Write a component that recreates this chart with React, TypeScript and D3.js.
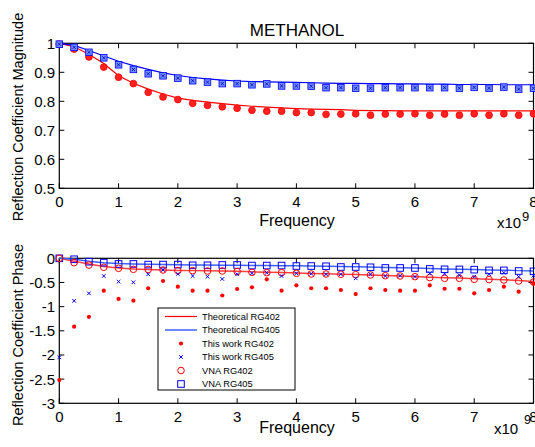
import React from 'react';
import * as d3 from 'd3';

const width = 535;
const height = 447;

// frequency axis, in units of 1e9 Hz
const freq = [0, 0.25, 0.5, 0.75, 1, 1.25, 1.5, 1.75, 2, 2.25, 2.5, 2.75, 3, 3.25, 3.5, 3.75, 4,
  4.25, 4.5, 4.75, 5, 5.25, 5.5, 5.75, 6, 6.25, 6.5, 6.75, 7, 7.25, 7.5, 7.75, 8];

// magnitude plot
const magTheory402 = [1.0, 0.988, 0.962, 0.93, 0.888, 0.862, 0.842, 0.825, 0.811, 0.803, 0.797, 0.792, 0.787,
  0.783, 0.78, 0.777, 0.775, 0.773, 0.772, 0.771, 0.769, 0.768, 0.768, 0.767, 0.767, 0.767, 0.767, 0.767, 0.767,
  0.767, 0.767, 0.767, 0.767];
const magMeas402 = [0.997, 0.98, 0.953, 0.918, 0.883, 0.861, 0.831, 0.815, 0.806, 0.793, 0.786, 0.781, 0.776,
  0.769, 0.766, 0.766, 0.761, 0.761, 0.755, 0.756, 0.757, 0.752, 0.756, 0.756, 0.757, 0.752, 0.756, 0.752, 0.757,
  0.752, 0.757, 0.752, 0.757];
const magTheory405 = [1.0, 0.993, 0.975, 0.956, 0.938, 0.923, 0.91, 0.898, 0.889, 0.882, 0.877, 0.873, 0.87,
  0.868, 0.867, 0.866, 0.865, 0.864, 0.863, 0.862, 0.862, 0.861, 0.861, 0.86, 0.86, 0.859, 0.859, 0.858, 0.858,
  0.858, 0.857, 0.857, 0.857];
const magMeas405 = [0.997, 0.986, 0.969, 0.95, 0.926, 0.91, 0.895, 0.888, 0.88, 0.871, 0.866, 0.861, 0.861,
  0.857, 0.86, 0.853, 0.853, 0.852, 0.847, 0.847, 0.845, 0.845, 0.847, 0.847, 0.847, 0.847, 0.847, 0.845, 0.848,
  0.845, 0.849, 0.842, 0.845];

// phase plot
const phaseTheory402 = [0, -0.06, -0.12, -0.17, -0.2, -0.22, -0.23, -0.24, -0.25, -0.255, -0.26, -0.265, -0.27,
  -0.28, -0.29, -0.295, -0.305, -0.315, -0.32, -0.33, -0.335, -0.345, -0.355, -0.365, -0.375, -0.39, -0.4, -0.41,
  -0.425, -0.435, -0.445, -0.46, -0.48];
const phaseTheory405 = [0, -0.02, -0.06, -0.09, -0.11, -0.12, -0.125, -0.13, -0.135, -0.14, -0.14, -0.142, -0.145,
  -0.148, -0.15, -0.152, -0.155, -0.16, -0.165, -0.17, -0.175, -0.18, -0.19, -0.195, -0.2, -0.21, -0.22, -0.225,
  -0.23, -0.24, -0.245, -0.255, -0.265];
const phaseWork402 = [-2.52, -1.415, -1.21, -0.67, -0.84, -0.877, -0.62, -0.47, -0.587, -0.67, -0.67, -0.77, -0.635,
  -0.6, -0.435, -0.67, -0.56, -0.62, -0.62, -0.656, -0.74, -0.62, -0.656, -0.67, -0.67, -0.56, -0.63, -0.63,
  -0.725, -0.656, -0.587, -0.69, -0.52];
const phaseWork405 = [-2.05, -0.88, -0.725, -0.366, -0.483, -0.497, -0.33, -0.242, -0.325, -0.366, -0.38, -0.428,
  -0.33, -0.31, -0.3, -0.366, -0.31, -0.32, -0.33, -0.33, -0.414, -0.33, -0.366, -0.36, -0.38, -0.31, -0.32, -0.35,
  -0.38, -0.33, -0.297, -0.38, -0.36];
const phaseVna402 = [0, -0.09, -0.14, -0.186, -0.207, -0.228, -0.23, -0.242, -0.256, -0.256, -0.263, -0.263, -0.276,
  -0.29, -0.297, -0.297, -0.31, -0.325, -0.325, -0.33, -0.338, -0.345, -0.36, -0.366, -0.38, -0.4, -0.414, -0.414,
  -0.435, -0.44, -0.449, -0.47, -0.49];
const phaseVna405 = [0, -0.02, -0.07, -0.09, -0.117, -0.117, -0.13, -0.13, -0.13, -0.145, -0.145, -0.138, -0.138,
  -0.15, -0.15, -0.15, -0.16, -0.16, -0.165, -0.18, -0.18, -0.186, -0.2, -0.2, -0.2, -0.22, -0.228, -0.23, -0.235,
  -0.25, -0.25, -0.263, -0.27];

const xTicks = [0, 1, 2, 3, 4, 5, 6, 7, 8];
const magTicks = [0.5, 0.6, 0.7, 0.8, 0.9, 1];
const phaseTicks = [0, -0.5, -1, -1.5, -2, -2.5, -3];
const legendItems = ['Theoretical RG402', 'Theoretical RG405', 'This work RG402', 'This work RG405', 'VNA RG402', 'VNA RG405'];

const RED = '#ff0000';
const BLUE = '#0000ff';
const font = 'Arial, "Liberation Sans", sans-serif';

const x = d3.scaleLinear().domain([0, 8]).range([59.3, 533.5]);
const yMag = d3.scaleLinear().domain([0.5, 1]).range([188.3, 43.3]);
const yPh = d3.scaleLinear().domain([-3, 0]).range([403.3, 258.3]);

const Cross = ({cx, cy, s, color, w = 1}) => (
  <path d={`M${cx - s},${cy - s}L${cx + s},${cy + s}M${cx - s},${cy + s}L${cx + s},${cy - s}`} stroke={color} strokeWidth={w} />
);

const Frame = ({y, ticks, fmt}) => {
  const [y0, y1] = y.range();
  return (
    <g>
      <rect x={x(0)} y={y1} width={x(8) - x(0)} height={y0 - y1} fill="none" stroke="#000" strokeWidth={1.2} />
      {xTicks.map(t => (
        <g key={'x' + t}>
          <line x1={x(t)} x2={x(t)} y1={y0} y2={y0 - 5} stroke="#000" />
          <line x1={x(t)} x2={x(t)} y1={y1} y2={y1 + 5} stroke="#000" />
          <text x={x(t)} y={y0 + 19} textAnchor="middle" fontSize={15} fontFamily={font}>{t}</text>
        </g>
      ))}
      {ticks.map(t => (
        <g key={'y' + t}>
          <line x1={x(0)} x2={x(0) + 5} y1={y(t)} y2={y(t)} stroke="#000" />
          <line x1={x(8)} x2={x(8) - 5} y1={y(t)} y2={y(t)} stroke="#000" />
          <text x={55} y={y(t)} dy="0.36em" textAnchor="end" fontSize={15} fontFamily={font}>{fmt(t)}</text>
        </g>
      ))}
    </g>
  );
};

export default function App() {
  const magLine = (vals) => d3.line<number>().x((d, i) => x(freq[i])).y(d => yMag(d))(vals);
  const phLine = (vals) => d3.line<number>().x((d, i) => x(freq[i])).y(d => yPh(d))(vals);

  const legX = 158, legY = 308, legRow = 13.5;

  return (
    <svg width={width} height={height} style={{position: 'absolute', left: 0, top: 0, background: '#fff'}}>
      {/* top: magnitude */}
      <text x={297} y={36} textAnchor="middle" fontSize={17} fontFamily={font}>METHANOL</text>
      <Frame y={yMag} ticks={magTicks} fmt={t => String(t)} />
      <path d={magLine(magTheory402)} fill="none" stroke={RED} strokeWidth={1.2} />
      <path d={magLine(magTheory405)} fill="none" stroke={BLUE} strokeWidth={1.2} />
      {magMeas402.map((v, i) => (
        <circle key={'mr' + i} cx={x(freq[i])} cy={yMag(v)} r={3.4} fill="#ff2020" stroke={RED} strokeWidth={0.8} />
      ))}
      {magMeas405.map((v, i) => (
        <g key={'mb' + i}>
          <rect x={x(freq[i]) - 3.3} y={yMag(v) - 3.3} width={6.6} height={6.6} fill="#6f8cff" stroke={BLUE} strokeWidth={0.8} />
          <Cross cx={x(freq[i])} cy={yMag(v)} s={1.6} color="#0000b0" w={0.8} />
        </g>
      ))}
      <text x={297} y={226} textAnchor="middle" fontSize={16} fontFamily={font}>Frequency</text>
      <text x={497} y={228} fontSize={15} fontFamily={font}>x10</text>
      <text x={522} y={221} fontSize={13} fontFamily={font}>9</text>
      <text transform="translate(23,117) rotate(-90)" textAnchor="middle" fontSize={14.5} fontFamily={font}>Reflection Coefficient Magnitude</text>

      {/* bottom: phase */}
      <Frame y={yPh} ticks={phaseTicks} fmt={t => String(t)} />
      <path d={phLine(phaseTheory402)} fill="none" stroke="#ff4040" strokeWidth={1.5} />
      <path d={phLine(phaseTheory405)} fill="none" stroke="#4060ff" strokeWidth={1.5} />
      {phaseVna405.map((v, i) => (
        <rect key={'vb' + i} x={x(freq[i]) - 3.3} y={yPh(v) - 3.3} width={6.6} height={6.6} fill="none" stroke={BLUE} strokeWidth={1} />
      ))}
      {phaseVna402.map((v, i) => (
        <circle key={'vr' + i} cx={x(freq[i])} cy={yPh(v)} r={3.3} fill="none" stroke={RED} strokeWidth={1} />
      ))}
      {phaseWork405.map((v, i) => (
        <Cross key={'wb' + i} cx={x(freq[i])} cy={yPh(v)} s={1.8} color={BLUE} w={1} />
      ))}
      {phaseWork402.map((v, i) => (
        <circle key={'wr' + i} cx={x(freq[i])} cy={yPh(v)} r={2.1} fill={RED} />
      ))}
      <text x={297} y={433} textAnchor="middle" fontSize={16} fontFamily={font}>Frequency</text>
      <text x={494} y={434} fontSize={15} fontFamily={font}>x10</text>
      <text x={524} y={424} fontSize={12.5} fontFamily={font}>9</text>
      <text transform="translate(23,335) rotate(-90)" textAnchor="middle" fontSize={14.5} fontFamily={font}>Reflection Coefficient Phase</text>

      {/* legend */}
      <rect x={legX} y={legY} width={137} height={82} fill="#fff" stroke="#000" strokeWidth={1} />
      {legendItems.map((name, i) => {
        const cy = legY + 8.5 + i * legRow;
        const mx = legX + 23;
        return (
          <g key={name}>
            {i === 0 && <line x1={legX + 7} x2={legX + 39} y1={cy} y2={cy} stroke={RED} strokeWidth={1.2} />}
            {i === 1 && <line x1={legX + 7} x2={legX + 39} y1={cy} y2={cy} stroke="#4060ff" strokeWidth={1.5} />}
            {i === 2 && <circle cx={mx} cy={cy} r={2.1} fill={RED} />}
            {i === 3 && <Cross cx={mx} cy={cy} s={1.8} color={BLUE} />}
            {i === 4 && <circle cx={mx} cy={cy} r={3.3} fill="none" stroke={RED} />}
            {i === 5 && <rect x={mx - 3.3} y={cy - 3.3} width={6.6} height={6.6} fill="none" stroke={BLUE} />}
            <text x={legX + 44} y={cy} dy="0.35em" fontSize={9.3} fontFamily={font}>{name}</text>
          </g>
        );
      })}
    </svg>
  );
}
